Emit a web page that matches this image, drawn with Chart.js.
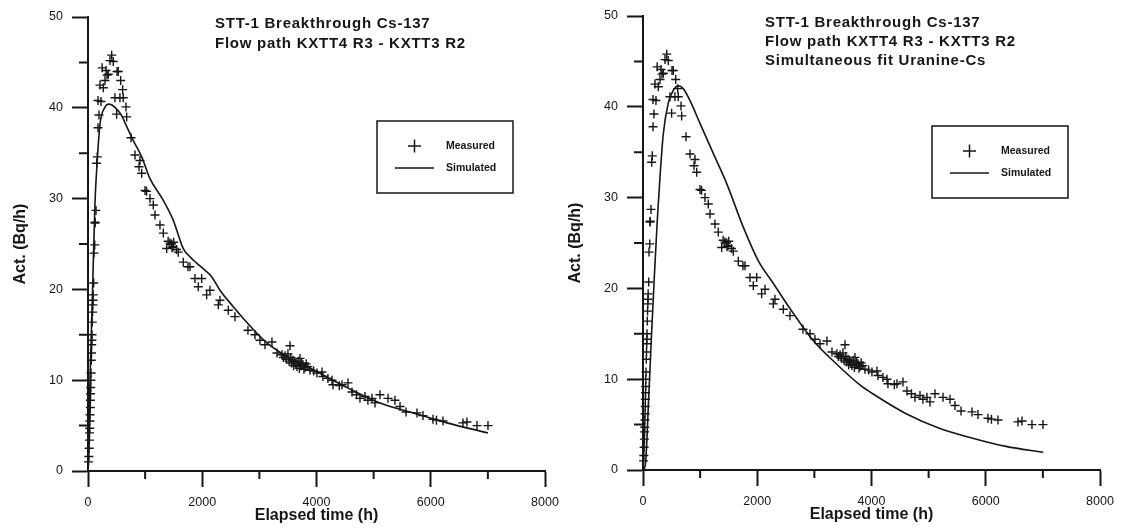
<!DOCTYPE html>
<html>
<head>
<meta charset="utf-8">
<script src="https://cdn.jsdelivr.net/npm/chart.js@4/dist/chart.umd.min.js"></script>
<style>
  html, body { margin: 0; padding: 0; background: #fff; }
  body { width: 1124px; height: 529px; position: relative; overflow: hidden; }
  canvas { position: absolute; }
  #left { left: 0; top: 0; }
  #right { left: 555px; top: -1px; }
</style>
</head>
<body>
<canvas id="left" width="560" height="529"></canvas>
<canvas id="right" width="560" height="529"></canvas>
<script>
// measured Cs-137 activity, same data in both panels
const measuredTime = [
  10, 15, 20, 25, 28, 30, 33, 36, 40, 42, 45, 48, 50, 53, 58, 62, 65, 68, 70, 75,
  80, 85, 88, 90, 100, 105, 118, 122, 125, 140, 152, 163, 175, 192, 175, 227, 210, 268, 248, 297,
  315, 333, 355, 385, 415, 442, 472, 501, 508, 530, 572, 559, 607, 617, 665, 677, 753, 823, 893, 910,
  940, 998, 1025, 1085, 1143, 1173, 1260, 1318, 1377, 1403, 1435, 1462, 1470, 1488, 1500, 1549, 1580, 1668, 1750, 1785,
  1873, 1931, 1990, 2077, 2135, 2281, 2310, 2456, 2573, 2800, 2923, 3010, 3098, 3220, 3308, 3395, 3420, 3450, 3470, 3500,
  3520, 3536, 3550, 3560, 3588, 3600, 3620, 3640, 3658, 3680, 3700, 3711, 3730, 3740, 3764, 3780, 3800, 3820, 3850, 3886,
  3950, 4008, 4096, 4113, 4200, 4271, 4288, 4400, 4446, 4551, 4621, 4700, 4761, 4849, 4900, 4971, 5024, 5111, 5252, 5374,
  5462, 5567, 5759, 5864, 6039, 6100, 6214, 6564, 6634, 6809, 7002
]
const measuredAct = [
  1.0, 1.6, 2.5, 3.4, 4.2, 4.7, 5.5, 6.2, 7.0, 7.8, 8.5, 9.2, 10.0, 10.8, 12.2, 13.0, 13.9, 14.4, 15.0, 16.4,
  17.5, 18.3, 18.8, 19.4, 20.7, 24.0, 24.9, 27.3, 27.4, 28.7, 33.9, 34.6, 37.8, 39.2, 40.8, 40.7, 42.5, 42.2, 44.4, 43.0,
  44.1, 43.6, 43.7, 45.2, 45.8, 45.1, 41.1, 39.3, 44.0, 44.0, 43.0, 41.1, 42.0, 41.1, 40.1, 39.0, 36.7, 34.8, 33.5, 34.2,
  32.8, 30.9, 30.8, 30.0, 29.3, 28.2, 27.1, 26.2, 24.5, 25.3, 25.1, 25.0, 24.6, 24.7, 25.2, 24.4, 24.1, 23.0, 22.5, 22.5,
  21.2, 20.3, 21.2, 19.4, 19.9, 18.3, 18.8, 17.7, 17.0, 15.5, 15.0, 14.4, 13.9, 14.2, 13.0, 12.8, 12.5, 12.7, 12.3, 12.9,
  12.1, 13.8, 12.5, 11.9, 12.2, 11.6, 12.0, 11.8, 11.5, 12.1, 11.3, 12.4, 11.6, 11.9, 11.7, 11.2, 11.4, 11.8, 11.5, 11.1,
  11.0, 10.8, 10.9, 10.4, 10.2, 10.0, 9.5, 9.4, 9.5, 9.7, 8.7, 8.4, 8.0, 8.2, 7.8, 8.0, 7.5, 8.4, 8.0, 7.8,
  7.1, 6.5, 6.4, 6.1, 5.7, 5.6, 5.5, 5.3, 5.4, 5.0, 5.0
]

// simulated curve, separate fit
const simLeftTime = [0, 35, 80, 122, 160, 210, 300, 360, 420, 480, 540, 600, 680, 800, 940, 1085, 1318, 1493, 1668, 1800, 1902, 2050, 2165, 2310, 2543, 2718, 3133, 3483, 3834, 4533, 5111, 5689, 6284, 7000]
const simLeftAct = [0, 10, 20, 29.5, 34, 38.2, 40.1, 40.4, 40.3, 40.0, 39.6, 39.0, 37.9, 36.3, 34.6, 32.2, 29.8, 27.6, 24.5, 23.5, 22.9, 22.1, 21.4, 19.9, 18.1, 16.8, 14.1, 12.6, 11.5, 9.2, 7.5, 6.4, 5.3, 4.2]

// simulated curve, simultaneous fit Uranine-Cs
const simRightTime = [0, 40, 100, 150, 200, 250, 300, 355, 442, 530, 617, 704, 821, 996, 1228, 1462, 1752, 2014, 2276, 2626, 2975, 3383, 3791, 4023, 4606, 5188, 5771, 6353, 7006]
const simRightAct = [0, 0.5, 8, 15, 21.5, 27.5, 32.5, 37, 40.4, 41.8, 42.3, 42, 40.7, 38.2, 34.9, 31.6, 26.8, 23.1, 20.6, 17.3, 14.3, 11.7, 9.4, 8.4, 6.2, 4.6, 3.5, 2.6, 1.95]

const xMinorTicks = [1000, 3000, 5000, 7000]
const yMinorTicks = [5, 15, 25, 35, 45]

const leftTitle = ['STT-1 Breakthrough Cs-137', 'Flow path KXTT4 R3 - KXTT3 R2']
const rightTitle = ['STT-1 Breakthrough Cs-137', 'Flow path KXTT4 R3 - KXTT3 R2', 'Simultaneous fit Uranine-Cs']
const legendLabels = ['Measured', 'Simulated']

const INK = '#161616'
const FONT = '"Liberation Sans", Arial, sans-serif'

const toPoints = (xs, ys) => xs.map((x, i) => ({ x, y: ys[i] }))

// minor ticks, title lines and the boxed legend
const overlay = {
  id: 'overlay',
  afterDraw(chart, args, opts) {
    const { ctx, chartArea: a, scales: { x, y } } = chart
    ctx.save()
    ctx.strokeStyle = INK
    ctx.lineWidth = 2
    ctx.beginPath()
    xMinorTicks.forEach((v) => {
      const px = x.getPixelForValue(v)
      ctx.moveTo(px, a.bottom)
      ctx.lineTo(px, a.bottom + 8)
    })
    yMinorTicks.forEach((v) => {
      const py = y.getPixelForValue(v)
      ctx.moveTo(a.left, py)
      ctx.lineTo(a.left - 9, py)
    })
    ctx.stroke()

    ctx.fillStyle = INK
    ctx.font = 'bold 15px ' + FONT
    ctx.letterSpacing = '0.75px'
    ctx.textBaseline = 'alphabetic'
    opts.title.forEach((t, i) => ctx.fillText(t, a.left + opts.titleX, a.top + 11 + i * opts.titleGap))
    ctx.letterSpacing = '0px'

    const bx = a.left + 289
    const by = a.top + opts.legendY
    ctx.lineWidth = 1.5
    ctx.strokeRect(bx, by, 136, 72)
    ctx.beginPath()
    ctx.moveTo(bx + 31, by + 25)
    ctx.lineTo(bx + 44, by + 25)
    ctx.moveTo(bx + 37.5, by + 18.5)
    ctx.lineTo(bx + 37.5, by + 31.5)
    ctx.moveTo(bx + 18, by + 47)
    ctx.lineTo(bx + 57, by + 47)
    ctx.stroke()
    ctx.font = 'bold 10.5px ' + FONT
    ctx.textBaseline = 'middle'
    ctx.fillText(legendLabels[0], bx + 69, by + 25)
    ctx.fillText(legendLabels[1], bx + 69, by + 47)
    ctx.restore()
  },
}

const makeChart = (id, simTime, simAct, overlayOpts) =>
  new Chart(document.getElementById(id), {
    type: 'scatter',
    data: {
      datasets: [
        {
          label: legendLabels[0],
          data: toPoints(measuredTime, measuredAct),
          pointStyle: 'cross',
          pointRadius: 4.5,
          pointBorderWidth: 1.4,
          borderColor: INK,
          backgroundColor: INK,
          clip: 8,
        },
        {
          label: legendLabels[1],
          type: 'line',
          data: toPoints(simTime, simAct),
          showLine: true,
          pointRadius: 0,
          borderColor: INK,
          borderWidth: 1.6,
          cubicInterpolationMode: 'monotone',
          fill: false,
        },
      ],
    },
    options: {
      responsive: false,
      animation: false,
      devicePixelRatio: 1,
      layout: { padding: { top: 17, right: 15, left: 0, bottom: 0 } },
      scales: {
        x: {
          type: 'linear',
          min: 0,
          max: 8000,
          ticks: {
            stepSize: 2000,
            color: INK,
            padding: 8,
            font: { family: FONT, size: 12.5 },
            callback: (v) => String(v),
          },
          grid: { drawOnChartArea: false, tickLength: 16, tickWidth: 2, tickColor: INK },
          border: { color: INK, width: 2 },
          title: {
            display: true,
            text: 'Elapsed time (h)',
            color: INK,
            font: { family: FONT, size: 16, weight: 'bold' },
            padding: { top: 0, bottom: 4 },
          },
          afterFit: (s) => {
            s.height = 58
            s.paddingLeft = 0
            s.paddingRight = 0
          },
        },
        y: {
          type: 'linear',
          min: 0,
          max: 50,
          ticks: { stepSize: 10, color: INK, padding: 9, font: { family: FONT, size: 12.5 } },
          grid: { drawOnChartArea: false, tickLength: 16, tickWidth: 2, tickColor: INK },
          border: { color: INK, width: 2 },
          title: {
            display: true,
            text: 'Act. (Bq/h)',
            color: INK,
            font: { family: FONT, size: 16, weight: 'bold' },
            padding: { top: 11, bottom: 0 },
          },
          afterFit: (s) => {
            s.width = 88
            s.paddingTop = 0
            s.paddingBottom = 0
          },
        },
      },
      plugins: {
        legend: { display: false },
        tooltip: { enabled: false },
        overlay: overlayOpts,
      },
    },
    plugins: [overlay],
  })

makeChart('left', simLeftTime, simLeftAct, { title: leftTitle, titleX: 127, titleGap: 20, legendY: 104 })
makeChart('right', simRightTime, simRightAct, { title: rightTitle, titleX: 122, titleGap: 19, legendY: 110 })
</script>
</body>
</html>
